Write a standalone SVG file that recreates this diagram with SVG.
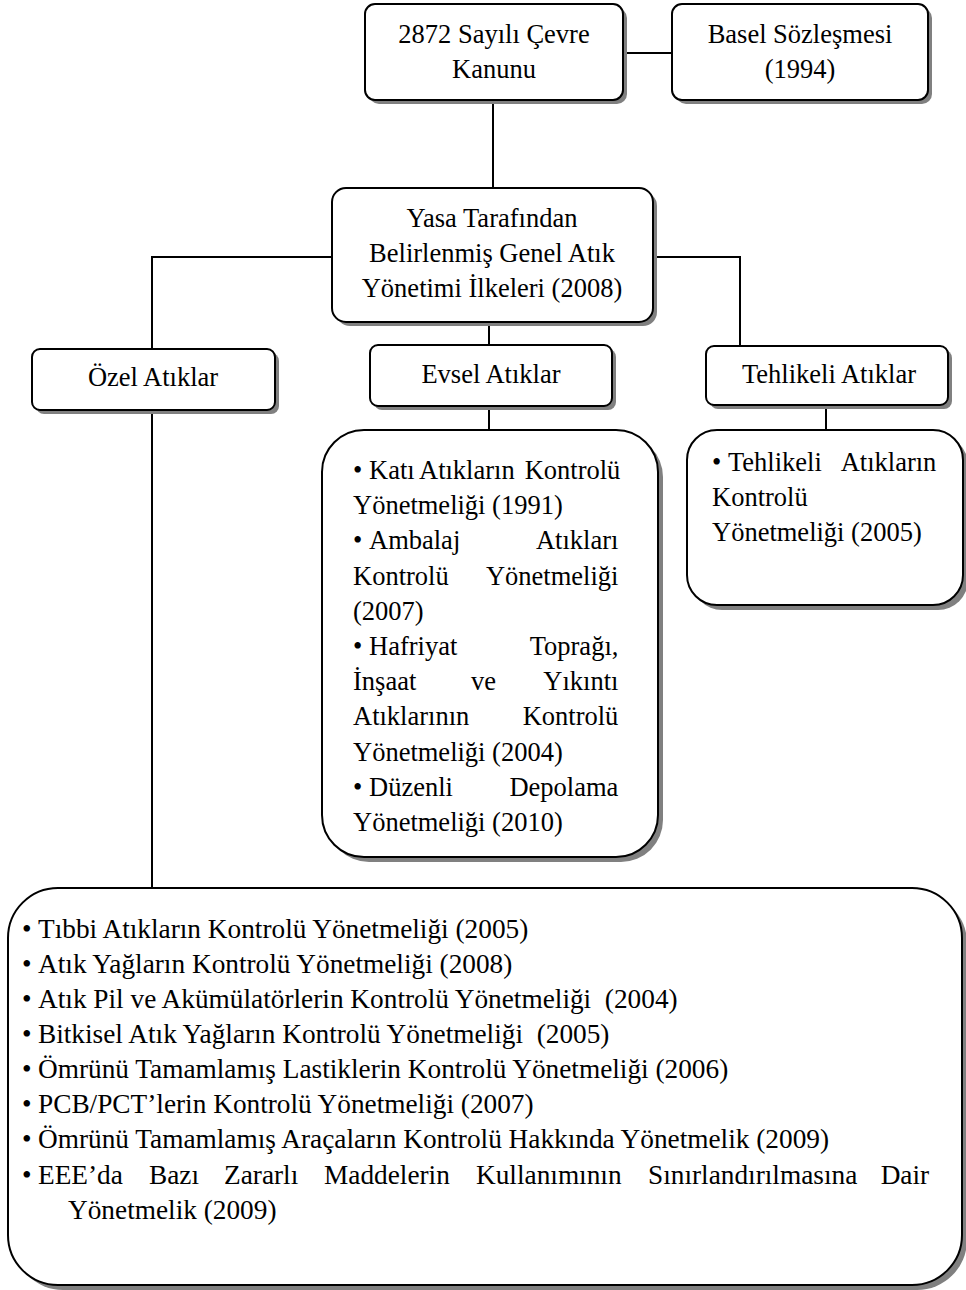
<svg xmlns="http://www.w3.org/2000/svg" width="966" height="1290" viewBox="0 0 966 1290">
  <style>
    .shadow { fill: #808080; }
    .box { fill: #ffffff; stroke: #000000; stroke-width: 2; }
    .link { fill: none; stroke: #000000; stroke-width: 2; }
    text { font-family: "Liberation Serif", "Times New Roman", serif; fill: #000000; }
    .t { font-size: 26.5px; }
    .c { text-anchor: middle; }
    .list { font-size: 26.5px; }
    .big { font-size: 27.3px; }
    .e { text-anchor: end; }
  </style>
  <rect width="966" height="1290" fill="#ffffff"/>

  <!-- connectors -->
  <g id="connectors">
    <path class="link" d="M493 100 V188"/>
    <path class="link" d="M623 53 H672"/>
    <path class="link" d="M332 257 H152 V349"/>
    <path class="link" d="M653 257 H740 V346"/>
    <path class="link" d="M489 322 V345"/>
    <path class="link" d="M489 406 V430"/>
    <path class="link" d="M826 405 V430"/>
    <path class="link" d="M152 410 V888"/>
  </g>

  <!-- law -->
  <g id="kanun">
    <rect class="shadow" x="369" y="8" width="258" height="96" rx="10"/>
    <rect class="box" x="365" y="4" width="258" height="96" rx="10"/>
    <text class="t c" x="494" y="43">2872 Sayılı Çevre</text>
    <text class="t c" x="494" y="78">Kanunu</text>
  </g>

  <!-- convention -->
  <g id="basel">
    <rect class="shadow" x="676" y="8" width="256" height="96" rx="10"/>
    <rect class="box" x="672" y="4" width="256" height="96" rx="10"/>
    <text class="t c" x="800" y="43">Basel Sözleşmesi</text>
    <text class="t c" x="800" y="78">(1994)</text>
  </g>

  <!-- general principles -->
  <g id="ilkeler">
    <rect class="shadow" x="336" y="192" width="321" height="134" rx="14"/>
    <rect class="box" x="332" y="188" width="321" height="134" rx="14"/>
    <text class="t c" x="492" y="227">Yasa Tarafından</text>
    <text class="t c" x="492" y="262">Belirlenmiş Genel Atık</text>
    <text class="t c" x="492" y="297">Yönetimi İlkeleri (2008)</text>
  </g>

  <!-- category headers -->
  <g id="ozel">
    <rect class="shadow" x="36" y="353" width="243" height="61" rx="8"/>
    <rect class="box" x="32" y="349" width="243" height="61" rx="8"/>
    <text class="t c" x="153" y="386">Özel Atıklar</text>
  </g>
  <g id="evsel">
    <rect class="shadow" x="374" y="349" width="242" height="61" rx="8"/>
    <rect class="box" x="370" y="345" width="242" height="61" rx="8"/>
    <text class="t c" x="491" y="383">Evsel Atıklar</text>
  </g>
  <g id="tehlikeli">
    <rect class="shadow" x="710" y="350" width="242" height="59" rx="8"/>
    <rect class="box" x="706" y="346" width="242" height="59" rx="8"/>
    <text class="t c" x="829" y="383">Tehlikeli Atıklar</text>
  </g>

  <!-- household waste regulations -->
  <g id="evsel-liste">
    <rect class="shadow" x="327" y="435" width="336" height="427" rx="42"/>
    <rect class="box" x="322" y="430" width="336" height="427" rx="42"/>
    <text class="list">
      <tspan x="353" y="479">•</tspan><tspan x="369" y="479">Katı</tspan><tspan x="419" y="479">Atıkların</tspan><tspan class="e" x="627" y="479">Kontrolü</tspan>
      <tspan x="353" y="514.2">Yönetmeliği (1991)</tspan>
      <tspan x="353" y="549.4">•</tspan><tspan x="369" y="549.4">Ambalaj</tspan><tspan class="e" x="625" y="549.4">Atıkları</tspan>
      <tspan x="353" y="584.6">Kontrolü</tspan><tspan class="e" x="625" y="584.6">Yönetmeliği</tspan>
      <tspan x="353" y="619.8">(2007)</tspan>
      <tspan x="353" y="655">•</tspan><tspan x="369" y="655">Hafriyat</tspan><tspan class="e" x="625" y="655">Toprağı,</tspan>
      <tspan x="353" y="690.2">İnşaat</tspan><tspan x="471" y="690.2">ve</tspan><tspan class="e" x="625" y="690.2">Yıkıntı</tspan>
      <tspan x="353" y="725.4">Atıklarının</tspan><tspan class="e" x="625" y="725.4">Kontrolü</tspan>
      <tspan x="353" y="760.6">Yönetmeliği (2004)</tspan>
      <tspan x="353" y="795.8">•</tspan><tspan x="369" y="795.8">Düzenli</tspan><tspan class="e" x="625" y="795.8">Depolama</tspan>
      <tspan x="353" y="831">Yönetmeliği (2010)</tspan>
    </text>
  </g>

  <!-- hazardous waste regulation -->
  <g id="tehlikeli-liste">
    <rect class="shadow" x="692" y="435" width="276" height="175" rx="30"/>
    <rect class="box" x="687" y="430" width="276" height="175" rx="30"/>
    <text class="list">
      <tspan x="712" y="471">•</tspan><tspan x="728" y="471">Tehlikeli</tspan><tspan class="e" x="943" y="471">Atıkların</tspan>
      <tspan x="712" y="506">Kontrolü</tspan>
      <tspan x="712" y="541">Yönetmeliği (2005)</tspan>
    </text>
  </g>

  <!-- special waste regulations -->
  <g id="ozel-liste">
    <rect class="shadow" x="13" y="893" width="954" height="397" rx="50"/>
    <rect class="box" x="8" y="888" width="954" height="397" rx="50"/>
    <text class="big">
      <tspan x="22" y="938">•</tspan><tspan x="38" y="938">Tıbbi Atıkların Kontrolü Yönetmeliği (2005)</tspan>
      <tspan x="22" y="973">•</tspan><tspan x="38" y="973">Atık Yağların Kontrolü Yönetmeliği (2008)</tspan>
      <tspan x="22" y="1008">•</tspan><tspan x="38" y="1008" xml:space="preserve">Atık Pil ve Akümülatörlerin Kontrolü Yönetmeliği  (2004)</tspan>
      <tspan x="22" y="1043">•</tspan><tspan x="38" y="1043" xml:space="preserve">Bitkisel Atık Yağların Kontrolü Yönetmeliği  (2005)</tspan>
      <tspan x="22" y="1078">•</tspan><tspan x="38" y="1078">Ömrünü Tamamlamış Lastiklerin Kontrolü Yönetmeliği (2006)</tspan>
      <tspan x="22" y="1113">•</tspan><tspan x="38" y="1113">PCB/PCT’lerin Kontrolü Yönetmeliği (2007)</tspan>
      <tspan x="22" y="1148">•</tspan><tspan x="38" y="1148">Ömrünü Tamamlamış Araçaların Kontrolü Hakkında Yönetmelik (2009)</tspan>
      <tspan x="22" y="1184">•</tspan><tspan x="38" y="1184">EEE’da</tspan><tspan x="149" y="1184">Bazı</tspan><tspan x="224" y="1184">Zararlı</tspan><tspan x="324" y="1184">Maddelerin</tspan><tspan x="476" y="1184">Kullanımının</tspan><tspan x="648" y="1184">Sınırlandırılmasına</tspan><tspan class="e" x="936" y="1184">Dair</tspan>
      <tspan x="68" y="1219">Yönetmelik (2009)</tspan>
    </text>
  </g>
</svg>
